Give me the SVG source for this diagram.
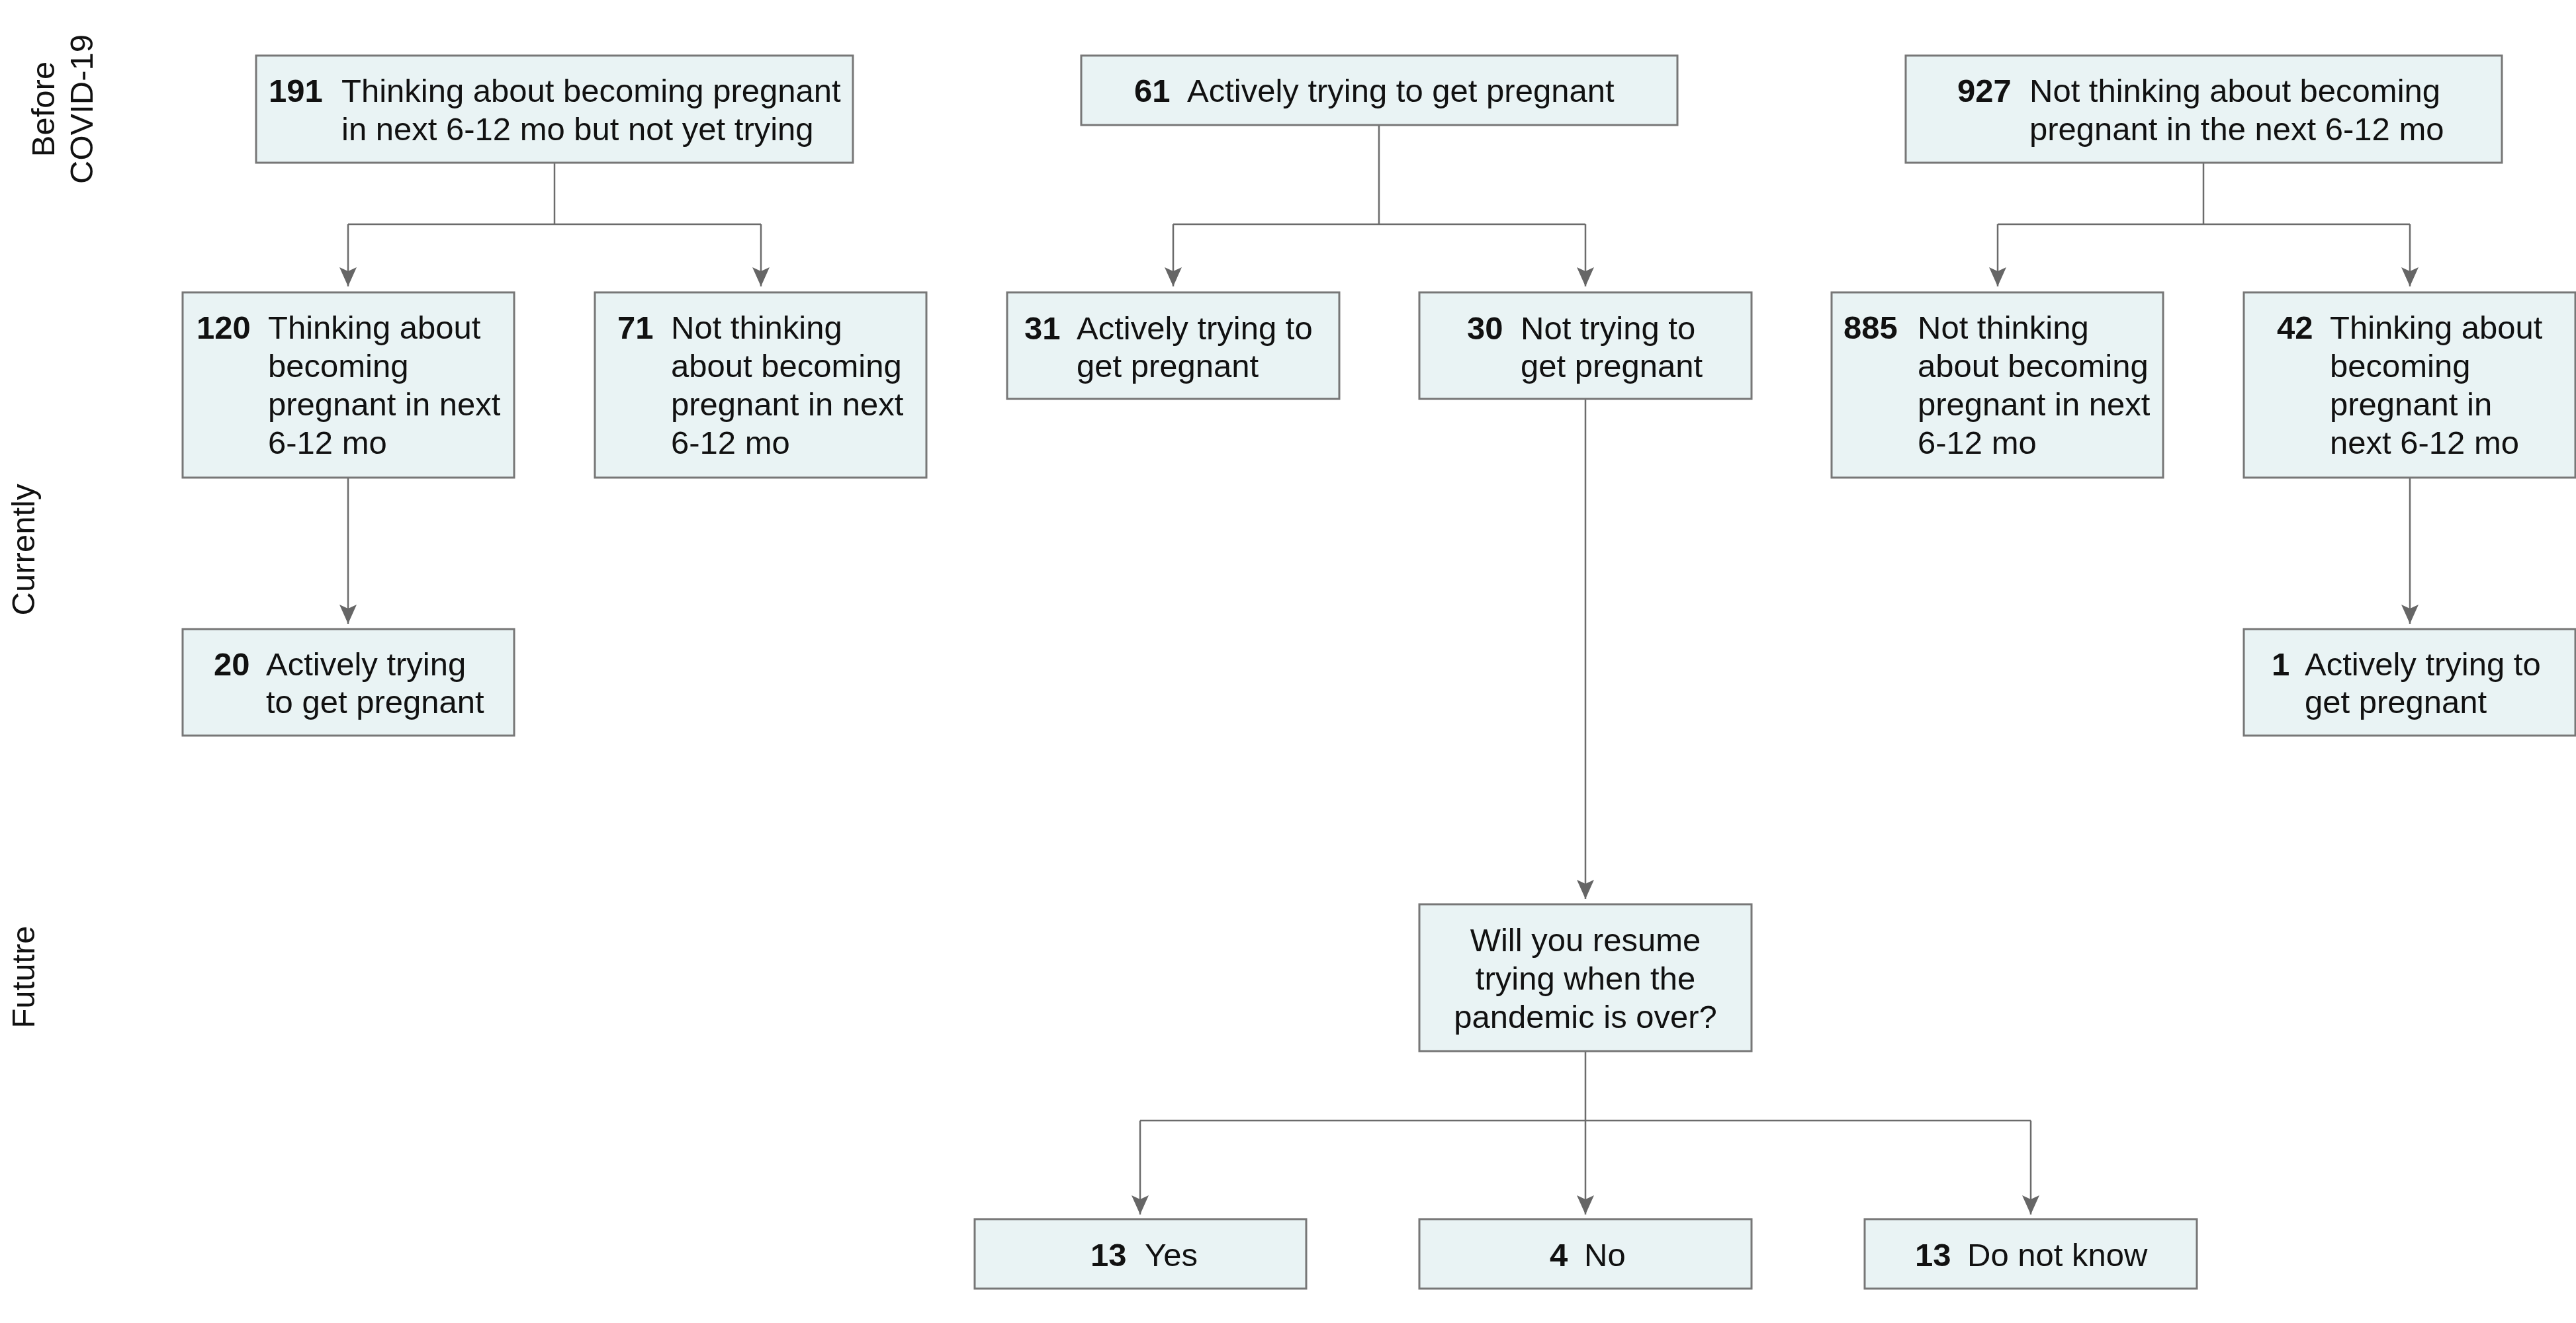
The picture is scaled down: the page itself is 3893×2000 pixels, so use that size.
<svg xmlns="http://www.w3.org/2000/svg" width="3893" height="2000" viewBox="0 0 3893 2000">
<style>
text{font-family:"Liberation Sans",Arial,sans-serif;font-size:49px;fill:#111}
.n{font-weight:bold}
.box{fill:#e9f3f4;stroke:#777;stroke-width:3}
.ln{fill:none;stroke:#6b6b6b;stroke-width:2.5}
.arr{marker-end:url(#ah)}
.c{text-anchor:middle}
</style>
<defs>
<marker id="ah" markerUnits="userSpaceOnUse" markerWidth="30" markerHeight="26" viewBox="0 0 30 26" refX="29" refY="13" orient="auto">
<path d="M0,0 L29,13 L0,26 L6,13 Z" fill="#666"/>
</marker>
</defs>
<rect width="3893" height="2000" fill="#fff"/>
<g id="labels">
<text class="c" transform="translate(82,165) rotate(-90)">Before</text>
<text class="c" transform="translate(140,165) rotate(-90)">COVID-19</text>
<text class="c" transform="translate(52,831) rotate(-90)">Currently</text>
<text class="c" transform="translate(52,1477) rotate(-90)">Fututre</text>
</g>
<g id="connectors">
<path class="ln" d="M838,246 V339 M526,339 H1150"/>
<path class="ln arr" d="M526,339 V433"/>
<path class="ln arr" d="M1150,339 V433"/>
<path class="ln" d="M2084,189 V339 M1773,339 H2396"/>
<path class="ln arr" d="M1773,339 V433"/>
<path class="ln arr" d="M2396,339 V433"/>
<path class="ln" d="M3330,246 V339 M3019,339 H3642"/>
<path class="ln arr" d="M3019,339 V433"/>
<path class="ln arr" d="M3642,339 V433"/>
<path class="ln arr" d="M526,722 V943"/>
<path class="ln arr" d="M3642,722 V943"/>
<path class="ln arr" d="M2396,603 V1359"/>
<path class="ln" d="M2396,1589 V1694 M1723,1694 H3069"/>
<path class="ln arr" d="M1723,1694 V1836"/>
<path class="ln arr" d="M2396,1694 V1836"/>
<path class="ln arr" d="M3069,1694 V1836"/>
</g>
<g id="n191">
<rect class="box" x="387" y="84" width="902" height="162"/>
<text class="n" x="406" y="154">191</text>
<text x="516" y="154">Thinking about becoming pregnant</text>
<text x="516" y="212">in next 6-12 mo but not yet trying</text>
</g>
<g id="n61">
<rect class="box" x="1634" y="84" width="901" height="105"/>
<text class="n" x="1714" y="154">61</text>
<text x="1794" y="154">Actively trying to get pregnant</text>
</g>
<g id="n927">
<rect class="box" x="2880" y="84" width="901" height="162"/>
<text class="n" x="2958" y="154">927</text>
<text x="3067" y="154">Not thinking about becoming</text>
<text x="3067" y="212">pregnant in the next 6-12 mo</text>
</g>
<g id="n120">
<rect class="box" x="276" y="442" width="501" height="280"/>
<text class="n" x="297" y="512">120</text>
<text x="405" y="512">Thinking about</text>
<text x="405" y="570">becoming</text>
<text x="405" y="628">pregnant in next</text>
<text x="405" y="686">6-12 mo</text>
</g>
<g id="n71">
<rect class="box" x="899" y="442" width="501" height="280"/>
<text class="n" x="933" y="512">71</text>
<text x="1014" y="512">Not thinking</text>
<text x="1014" y="570">about becoming</text>
<text x="1014" y="628">pregnant in next</text>
<text x="1014" y="686">6-12 mo</text>
</g>
<g id="n31">
<rect class="box" x="1522" y="442" width="502" height="161"/>
<text class="n" x="1548" y="513">31</text>
<text x="1627" y="513">Actively trying to</text>
<text x="1627" y="570">get pregnant</text>
</g>
<g id="n30">
<rect class="box" x="2145" y="442" width="502" height="161"/>
<text class="n" x="2217" y="513">30</text>
<text x="2298" y="513">Not trying to</text>
<text x="2298" y="570">get pregnant</text>
</g>
<g id="n885">
<rect class="box" x="2768" y="442" width="501" height="280"/>
<text class="n" x="2786" y="512">885</text>
<text x="2898" y="512">Not thinking</text>
<text x="2898" y="570">about becoming</text>
<text x="2898" y="628">pregnant in next</text>
<text x="2898" y="686">6-12 mo</text>
</g>
<g id="n42">
<rect class="box" x="3391" y="442" width="501" height="280"/>
<text class="n" x="3441" y="512">42</text>
<text x="3521" y="512">Thinking about</text>
<text x="3521" y="570">becoming</text>
<text x="3521" y="628">pregnant in</text>
<text x="3521" y="686">next 6-12 mo</text>
</g>
<g id="n20">
<rect class="box" x="276" y="951" width="501" height="161"/>
<text class="n" x="323" y="1021">20</text>
<text x="402" y="1021">Actively trying</text>
<text x="402" y="1078">to get pregnant</text>
</g>
<g id="n1">
<rect class="box" x="3391" y="951" width="501" height="161"/>
<text class="n" x="3433" y="1021">1</text>
<text x="3483" y="1021">Actively trying to</text>
<text x="3483" y="1078">get pregnant</text>
</g>
<g id="nwill">
<rect class="box" x="2145" y="1367" width="502" height="222"/>
<text class="c" x="2396" y="1438">Will you resume</text>
<text class="c" x="2396" y="1496">trying when the</text>
<text class="c" x="2396" y="1554">pandemic is over?</text>
</g>
<g id="nyes">
<rect class="box" x="1473" y="1843" width="501" height="105"/>
<text class="n" x="1648" y="1914">13</text>
<text x="1730" y="1914">Yes</text>
</g>
<g id="nno">
<rect class="box" x="2145" y="1843" width="502" height="105"/>
<text class="n" x="2342" y="1914">4</text>
<text x="2394" y="1914">No</text>
</g>
<g id="ndk">
<rect class="box" x="2818" y="1843" width="502" height="105"/>
<text class="n" x="2894" y="1914">13</text>
<text x="2973" y="1914">Do not know</text>
</g>
</svg>
